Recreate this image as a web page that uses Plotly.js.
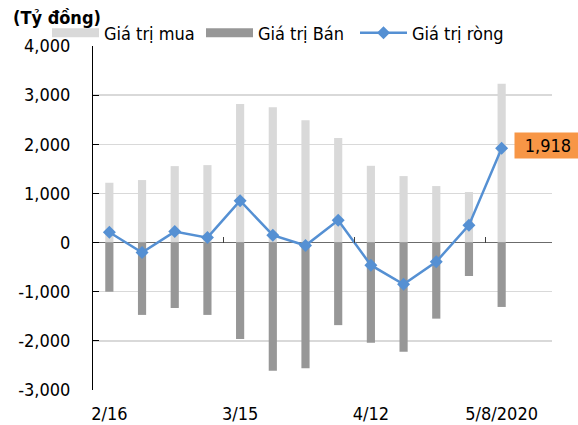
<!DOCTYPE html>
<html>
<head>
<meta charset="utf-8">
<script src="https://cdn.plot.ly/plotly-3.0.1.min.js"></script>
<style>
html,body{margin:0;padding:0;background:#fff;}
#chart{width:578px;height:425px;}
</style>
</head>
<body>
<div id="chart"></div>
<script>
// ---- data ----
var weeks = ['2/16','2/23','3/1','3/8','3/15','3/22','3/29','4/5','4/12','4/19','4/26','5/3','5/8/2020'];
var buyValues  = [1217, 1272, 1556, 1576, 2820, 2752, 2489, 2130, 1562, 1353, 1150, 1028, 3233];
var sellValues = [-1000, -1472, -1331, -1472, -1960, -2610, -2556, -1680, -2037, -2220, -1548, -680, -1310];
var netValues  = [211, -202, 223, 101, 852, 150, -60, 454, -460, -850, -390, 355, 1918];
var xTickLabels = ['2/16','3/15','4/12','5/8/2020'];
var yTickVals = [-3000,-2000,-1000,0,1000,2000,3000,4000];
var yTickText = ['-3,000','-2,000','-1,000','0','1,000','2,000','3,000','4,000'];
var seriesNames = ['Giá trị mua','Giá trị Bán','Giá trị ròng'];
var unitLabel = '(Tỷ đồng)';

var FONT = '"DejaVu Sans Condensed", "DejaVu Sans", sans-serif';
var cBuy = '#d9d9d9', cSell = '#979797', cNet = '#5590d3';

var traces = [
  {type:'bar', x:weeks, y:buyValues, name:seriesNames[0], marker:{color:cBuy}, width:0.25, showlegend:false, hoverinfo:'y'},
  {type:'bar', x:weeks, y:sellValues, name:seriesNames[1], marker:{color:cSell}, width:0.25, showlegend:false, hoverinfo:'y'},
  {type:'scatter', mode:'lines+markers', x:weeks, y:netValues, name:seriesNames[2],
   line:{color:cNet, width:2.5}, marker:{symbol:'diamond', size:10, color:cNet}, showlegend:false},
  // legend swatches
  {type:'scatter', mode:'lines', x:[null], y:[null], name:seriesNames[0], line:{color:cBuy, width:9}},
  {type:'scatter', mode:'lines', x:[null], y:[null], name:seriesNames[1], line:{color:cSell, width:9}},
  {type:'scatter', mode:'lines+markers', x:[null], y:[null], name:seriesNames[2], line:{color:cNet, width:2.5}, marker:{symbol:'diamond', size:10, color:cNet}},
  // carrier for the secondary (tick-only) x axis
  {type:'scatter', mode:'lines', x:[null], y:[null], xaxis:'x2', yaxis:'y', showlegend:false, hoverinfo:'skip'}
];

var lastIdx = weeks.length - 1;
var layout = {
  width:578, height:425,
  margin:{l:93, r:26, t:46, b:35, pad:0, autoexpand:false},
  paper_bgcolor:'#fff', plot_bgcolor:'#fff',
  font:{family:FONT, size:18, color:'#000'},
  barmode:'overlay',
  showlegend:true,
  legend:{orientation:'h', xref:'container', yref:'container', x:47/578, y:1-33/425, xanchor:'left', yanchor:'middle',
          font:{family:FONT, size:18, color:'#000'}, itemwidth:47, entrywidth:92, traceorder:'normal', bgcolor:'rgba(0,0,0,0)'},
  title:{text:'<b>'+unitLabel+'</b>', xref:'container', yref:'container', x:13/578, y:1-18/425, xanchor:'left', yanchor:'middle',
         font:{family:FONT, size:18, color:'#000'}},
  xaxis:{type:'category', range:[-0.5, 13.54], tickmode:'array', tickvals:[weeks[0],weeks[4],weeks[8],weeks[12]], ticktext:xTickLabels,
         ticks:'', showgrid:false, showline:false, zeroline:false, ticklabelstandoff:11, fixedrange:true},
  xaxis2:{overlaying:'x', anchor:'free', position:3/7, range:[-0.5, 13.54], tickmode:'array', tickvals:[3.5,7.5,11.5],
          ticks:'inside', ticklen:6, tickwidth:1, tickcolor:'#404040', showticklabels:false, showgrid:false, showline:false, zeroline:false},
  yaxis:{range:[-3000,4000], tickmode:'array', tickvals:yTickVals, ticktext:yTickText, showgrid:true, gridcolor:'#d9d9d9', gridwidth:1.5,
         zeroline:true, zerolinecolor:'#6b6b6b', zerolinewidth:1.5, showline:true, linecolor:'#000', linewidth:1,
         ticks:'inside', ticklen:6, tickcolor:'#000', ticklabelstandoff:18},
  annotations:[{x:weeks[lastIdx], y:netValues[lastIdx], xref:'x', yref:'y', text:netValues[lastIdx].toLocaleString('en-US'),
                showarrow:false, xanchor:'left', yanchor:'middle', xshift:12.5, yshift:2.5, bgcolor:'#f79646',
                width:64, height:23, borderpad:1, font:{family:FONT, size:18, color:'#000'}}]
};

Plotly.newPlot('chart', traces, layout, {staticPlot:true, displayModeBar:false});
</script>
</body>
</html>
